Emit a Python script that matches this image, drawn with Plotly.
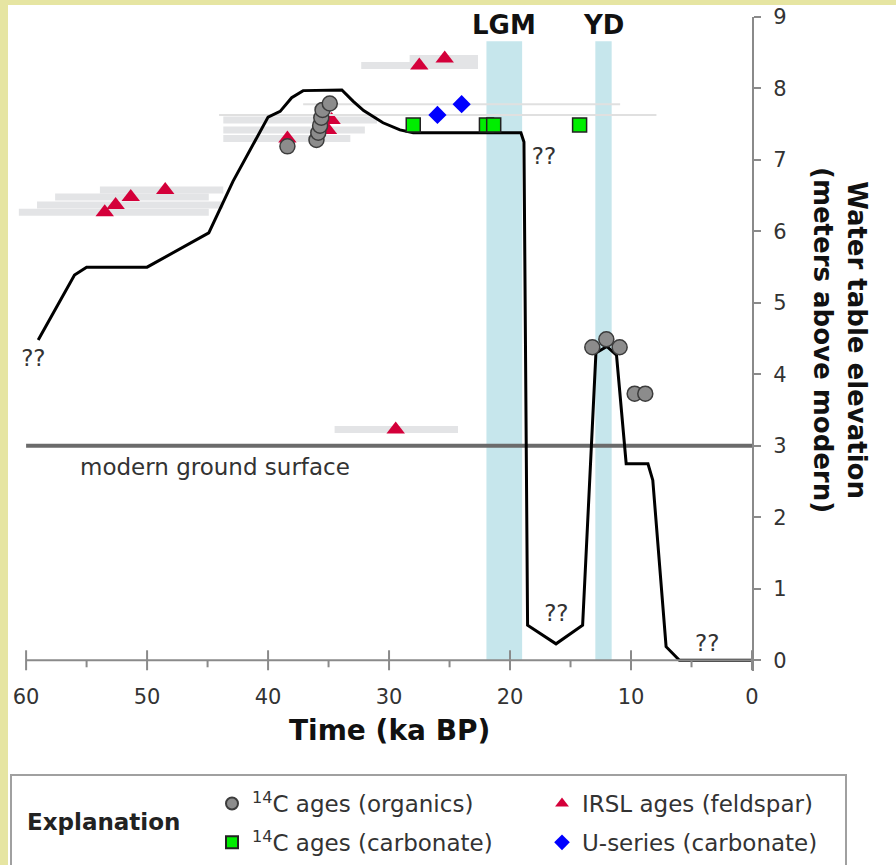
import plotly.graph_objects as go

# ---------------- data ----------------
# interpreted water-table curve (ka BP, m above modern)
wt_age = [59.0, 56.0, 55.0, 50.0, 44.9, 42.9, 40.0, 39.0, 38.05, 37.1, 33.9, 32.96, 32.1,
          30.5, 29.1, 28.0, 19.1, 18.85, 18.55, 16.2, 14.0, 12.9, 12.0, 11.2, 10.4, 8.6,
          8.2, 7.1, 6.0, 0.0]
wt_elev = [4.48, 5.39, 5.50, 5.50, 5.98, 6.70, 7.60, 7.68, 7.87, 7.97, 7.98, 7.82, 7.69,
           7.52, 7.42, 7.38, 7.38, 7.25, 0.49, 0.23, 0.49, 4.30, 4.39, 4.27, 2.75, 2.75,
           2.52, 0.19, 0.0, 0.0]

# 14C ages (organics)
org_age = [38.4, 36.0, 35.85, 35.7, 35.6, 35.5, 34.9, 13.2, 12.04, 10.94, 9.70, 8.82]
org_elev = [7.19, 7.28, 7.38, 7.48, 7.59, 7.70, 7.79, 4.38, 4.49, 4.38, 3.73, 3.73]

# 14C ages (carbonate)
carb_age = [28.0, 21.95, 21.35, 14.25]
carb_elev = [7.49, 7.49, 7.49, 7.49]

# IRSL ages (feldspar) with age ranges
irsl_age = [53.5, 52.6, 51.35, 48.5, 38.4, 34.75, 35.05, 27.5, 25.4, 29.45]
irsl_elev = [6.27, 6.37, 6.48, 6.58, 7.30, 7.56, 7.42, 8.32, 8.42, 3.23]
irsl_old = [60.6, 59.1, 57.6, 53.9, 43.7, 43.7, 43.7, 32.3, 28.3, 34.5]
irsl_young = [44.9, 43.7, 44.9, 43.7, 33.2, 31.0, 32.0, 22.65, 22.65, 24.3]

# U-series (carbonate) with age ranges
useries_age = [26.0, 24.0]
useries_elev = [7.63, 7.78]
useries_old = [44.05, 37.1]
useries_young = [7.9, 10.9]

# climate periods
period_names = ["LGM", "YD"]
period_old = [21.95, 12.95]
period_young = [19.0, 11.6]
period_top = 8.66

# modern ground surface
ground_age = [60, 0]
ground_elev = [3, 3]

# ?? uncertainty labels
q_age = [59.4, 17.2, 16.17, 3.7]
q_elev = [4.2, 7.02, 0.63, 0.21]

x_major = [60, 50, 40, 30, 20, 10, 0]
x_minor = [55, 45, 35, 25, 15, 5]
y_ticks = [0, 1, 2, 3, 4, 5, 6, 7, 8, 9]

# ---------------- style ----------------
FONT = "DejaVu Sans, Verdana, sans-serif"
AXIS_GRAY = "#8a8a8a"
TEXT = "#333333"
BAND_GRAY = "#e3e4e6"
L, R, T, B = 14, 144, 17, 194
W, H = 896, 865
PW, PH = W - L - R, H - T - B


def px(xp):
    return (xp - L) / PW


def py(yp):
    return (H - B - yp) / PH


fig = go.Figure()

# IRSL (with thick grey age ranges)
fig.add_trace(go.Scatter(
    x=irsl_age, y=irsl_elev, mode="markers", name="IRSL ages (feldspar)",
    marker=dict(symbol="triangle-up", size=16, color="#d4003a", line=dict(width=0)),
    error_x=dict(type="data", symmetric=False,
                 array=[o - a for o, a in zip(irsl_old, irsl_age)],
                 arrayminus=[a - y for a, y in zip(irsl_age, irsl_young)],
                 color=BAND_GRAY, thickness=7, width=0),
    legend="legend2", legendrank=1, legendgroup="irsl", cliponaxis=False,
))

# U-series (thin grey age ranges)
fig.add_trace(go.Scatter(
    x=useries_age, y=useries_elev, mode="markers", name="U-series (carbonate)",
    marker=dict(symbol="diamond", size=14, color="#0000ff", line=dict(width=0)),
    error_x=dict(type="data", symmetric=False,
                 array=[o - a for o, a in zip(useries_old, useries_age)],
                 arrayminus=[a - y for a, y in zip(useries_age, useries_young)],
                 color="#e0e0e0", thickness=2, width=0),
    legend="legend2", legendrank=2, legendgroup="useries",
))

# modern ground surface
fig.add_trace(go.Scatter(
    x=ground_age, y=ground_elev, mode="lines", showlegend=False, hoverinfo="skip",
    line=dict(color="#6b6b6b", width=4),
))

# water-table curve
fig.add_trace(go.Scatter(
    x=wt_age, y=wt_elev, mode="lines", showlegend=False,
    line=dict(color="black", width=3),
))

# 14C carbonate
fig.add_trace(go.Scatter(
    x=carb_age, y=carb_elev, mode="markers", name="<sup>14</sup>C ages (carbonate)",
    marker=dict(symbol="square", size=14, color="#00ee00", line=dict(color="#222222", width=1.5)),
    legend="legend", legendrank=2, legendgroup="carb",
))

# 14C organics
fig.add_trace(go.Scatter(
    x=org_age, y=org_elev, mode="markers", name="<sup>14</sup>C ages (organics)",
    marker=dict(symbol="circle", size=15, color="#8c8c8c", line=dict(color="#3c3c3c", width=1.5)),
    legend="legend", legendrank=1, legendgroup="org",
))

# ?? labels
fig.add_trace(go.Scatter(
    x=q_age, y=q_elev, mode="text", text=["??"] * len(q_age), showlegend=False,
    textfont=dict(family=FONT, size=23, color=TEXT), hoverinfo="skip", cliponaxis=False,
))

shapes = []
# climate period bands
for o, yv in zip(period_old, period_young):
    shapes.append(dict(type="rect", xref="x", yref="y", x0=o, x1=yv, y0=0, y1=period_top,
                       fillcolor="#c6e6ec", line=dict(width=0), layer="below"))
# x-axis line and ticks
shapes.append(dict(type="line", xref="x", yref="y", x0=x_major[0], x1=x_major[-1], y0=0, y1=0,
                   line=dict(color=AXIS_GRAY, width=2)))
for t in x_major:
    shapes.append(dict(type="line", xref="x", yref="y", ysizemode="pixel", yanchor=0,
                       x0=t, x1=t, y0=-10, y1=10, line=dict(color=AXIS_GRAY, width=2)))
for t in x_minor:
    shapes.append(dict(type="line", xref="x", yref="y", ysizemode="pixel", yanchor=0,
                       x0=t, x1=t, y0=0, y1=-7, line=dict(color=AXIS_GRAY, width=2)))
# page frame (yellow strips)
shapes.append(dict(type="rect", xref="paper", yref="paper", x0=px(-5), x1=px(8), y0=py(H + 5), y1=py(-5),
                   fillcolor="#e6e5a2", line=dict(width=0), layer="below"))
shapes.append(dict(type="rect", xref="paper", yref="paper", x0=px(-5), x1=px(W + 5), y0=py(5), y1=py(-5),
                   fillcolor="#e6e5a2", line=dict(width=0), layer="below"))
# explanation box
shapes.append(dict(type="rect", xref="paper", yref="paper", x0=px(11), x1=px(846), y0=py(H + 10), y1=py(775),
                   fillcolor="white", line=dict(color="#a0a0a0", width=2), layer="below"))

annotations = []
for name, o, yv in zip(period_names, period_old, period_young):
    annotations.append(dict(x=(o + yv) / 2, y=8.89, xref="x", yref="y", text="<b>%s</b>" % name,
                            xanchor="center", yanchor="middle",
                            showarrow=False, font=dict(family=FONT, size=26, color="#111111")))
annotations.append(dict(x=55.7, y=2.70, xref="x", yref="y", text="modern ground surface",
                        xanchor="left", yanchor="middle", showarrow=False,
                        font=dict(family=FONT, size=23, color=TEXT)))
annotations.append(dict(x=px(389), y=py(730), xref="paper", yref="paper", text="<b>Time (ka BP)</b>",
                        xanchor="center", yanchor="middle", showarrow=False,
                        font=dict(family=FONT, size=28, color="#111111")))
annotations.append(dict(x=px(840), y=py(340), xref="paper", yref="paper",
                        text="<b>Water table elevation<br>(meters above modern)</b>", textangle=90,
                        xanchor="center", yanchor="middle", showarrow=False,
                        font=dict(family=FONT, size=26, color="#111111")))
annotations.append(dict(x=px(25), y=py(822), xref="paper", yref="paper", text="<b>Explanation</b>",
                        xanchor="left", yanchor="middle", showarrow=False,
                        font=dict(family=FONT, size=23, color="#222222")))

fig.update_layout(
    width=W, height=H,
    margin=dict(l=L, r=R, t=T, b=B, pad=0, autoexpand=False),
    paper_bgcolor="white", plot_bgcolor="white",
    font=dict(family=FONT, color=TEXT),
    xaxis=dict(range=[61, 0], showgrid=False, zeroline=False, showline=False, ticks="",
               tickmode="array", tickvals=x_major, ticktext=[str(v) for v in x_major],
               tickfont=dict(family=FONT, size=21, color=TEXT), ticklabelstandoff=11),
    yaxis=dict(range=[-0.15, 9], side="right", showgrid=False, zeroline=False, showline=True,
               linecolor=AXIS_GRAY, linewidth=2, ticks="outside", ticklen=7, tickwidth=2,
               tickcolor=AXIS_GRAY, tickmode="array", tickvals=y_ticks,
               tickfont=dict(family=FONT, size=21, color=TEXT), ticklabelstandoff=8),
    showlegend=True,
    legend=dict(x=px(212), y=py(782), xanchor="left", yanchor="top", orientation="v",
                bgcolor="rgba(0,0,0,0)", borderwidth=0, tracegroupgap=6, itemsizing="constant",
                font=dict(family=FONT, size=23, color=TEXT)),
    legend2=dict(x=px(542), y=py(782), xanchor="left", yanchor="top", orientation="v",
                 bgcolor="rgba(0,0,0,0)", borderwidth=0, tracegroupgap=6, itemsizing="constant",
                 font=dict(family=FONT, size=23, color=TEXT)),
    shapes=shapes,
    annotations=annotations,
)

fig.write_html("out.html", config={"displayModeBar": False},
               post_script="document.body.style.margin='0';")
